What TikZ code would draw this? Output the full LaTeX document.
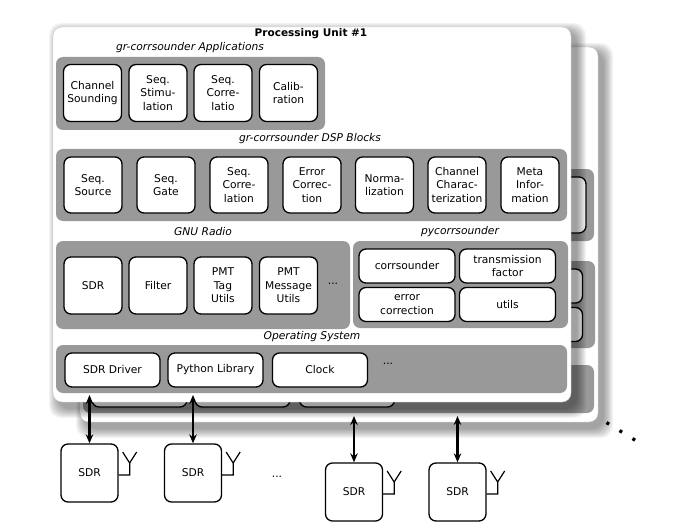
\documentclass[tikz,border=0pt]{standalone}
\usepackage{fontspec}
\setmainfont{DejaVu Sans}
\usetikzlibrary{arrows.meta}

\definecolor{layergray}{gray}{0.6}

% one processing unit: shadow, card, layers and blocks (text through \bt)
\newcommand{\unitbody}{%
  \foreach \i in {0,...,9}
    \fill[black, opacity=0.045, rounded corners=12pt] ({58-\i},{32-\i}) rectangle ({577+\i},{409+\i});
  \draw[black!20, fill=white, rounded corners=9pt] (53,27) rectangle (571,402);
  \fill[layer] (56,57) rectangle (325,130);
  \fill[layer] (56,149) rectangle (567,221);
  \fill[layer] (56,241) rectangle (350,329);
  \fill[layer] (353,241) rectangle (568,328);
  \fill[layer] (56,345) rectangle (567,393);
  % applications
  \node[blk] (chsnd) at (92.5,93) {\bt{Channel\\Sounding}};
  \node[blk] (seqstim) at (158,93) {\bt{Seq.\\Stimu-\\lation}};
  \node[blk] (seqcorr) at (223,93) {\bt{Seq.\\Corre-\\latio}};
  \node[blk] (calib) at (288.5,93) {\bt{Calib-\\ration}};
  % dsp blocks
  \node[blk, minimum height=56pt] (seqsrc) at (93,185) {\bt{Seq.\\Source}};
  \node[blk, minimum height=56pt] (seqgate) at (166,185) {\bt{Seq.\\Gate}};
  \node[blk, minimum height=56pt] (seqcorrb) at (239,185) {\bt{Seq.\\Corre-\\lation}};
  \node[blk, minimum height=56pt] (errcorr) at (312,185) {\bt{Error\\Correc-\\tion}};
  \node[blk, minimum height=56pt] (norm) at (384.5,185) {\bt{Norma-\\lization}};
  \node[blk, minimum height=56pt] (chchar) at (457,185) {\bt{Channel\\Charac-\\terization}};
  \node[blk, minimum height=56pt] (meta) at (530,185) {\bt{Meta\\Infor-\\mation}};
  % gnu radio
  \node[blk] (sdrblk) at (93,285.5) {\bt{SDR}};
  \node[blk] (filter) at (158,285.5) {\bt{Filter}};
  \node[blk] (pmttag) at (223,285.5) {\bt{PMT\\Tag\\Utils}};
  \node[blk] (pmtmsg) at (288.5,285.5) {\bt{PMT\\Message\\Utils}};
  % pycorrsounder
  \node[wblk] (corrsnd) at (407,266) {\bt{corrsounder}};
  \node[wblk] (txfactor) at (507.5,266) {\bt{transmission\\factor}};
  \node[wblk] (errcorrpy) at (407,304.5) {\bt{error\\correction}};
  \node[wblk] (utils) at (507.5,304.5) {\bt{utils}};
  % operating system
  \node[wblk, minimum width=95pt] (sdrdrv) at (112.5,370) {\bt{SDR Driver}};
  \node[wblk, minimum width=95pt] (pylib) at (215.5,370) {\bt{Python Library}};
  \node[wblk, minimum width=95pt] (clock) at (320,370) {\bt{Clock}};
}

\begin{document}
\begin{tikzpicture}[x=1pt, y=-1pt,
  font=\fontsize{10.7}{13.5}\selectfont,
  layer/.style={fill=layergray, rounded corners=7pt},
  blk/.style={draw, fill=white, line width=1.3pt, rounded corners=7pt, align=center,
    inner sep=1pt, minimum width=58pt, minimum height=57pt},
  wblk/.style={blk, minimum width=96pt, minimum height=34pt},
  sdr/.style={blk, minimum width=57pt, minimum height=58pt},
  lbl/.style={font=\fontsize{10.7}{13.5}\selectfont\itshape},
  link/.style={<->, line width=2.3pt},
  >={Stealth[length=9pt,width=7.5pt]}]
\useasboundingbox (0,0) rectangle (680,532);

% second unit, behind
\begin{scope}[shift={(27,20)}]
  \def\bt#1{}
  \unitbody
\end{scope}

% first unit
\def\bt#1{#1}
\unitbody
\node[font=\fontsize{10.5}{13}\selectfont\bfseries] (title) at (311,34) {Processing Unit \#1};
\node[lbl] (appslbl) at (190,48) {gr-corrsounder Applications};
\node[lbl] (dsplbl) at (310,139) {gr-corrsounder DSP Blocks};
\node[lbl] (gnulbl) at (203,232) {GNU Radio};
\node[lbl] (pyclbl) at (460,232) {pycorrsounder};
\node[lbl] (oslbl) at (312,337) {Operating System};
\node (gnudots) at (333,284) {...};
\node (osdots) at (388,364) {...};

% radios
\node[sdr] (sdrA) at (89.5,473) {SDR};
\node[sdr] (sdrB) at (193,473) {SDR};
\node[sdr] (sdrC) at (354,492) {SDR};
\node[sdr] (sdrD) at (457.5,492) {SDR};
\node (sdrdots) at (277,477) {...};
\node[rotate=-32, font=\fontsize{18}{18}\selectfont\bfseries] (unitdots) at (621,432) {. . .};

\foreach \n in {sdrA,sdrB,sdrC,sdrD}
  \draw[line width=1.2pt] (\n.east) ++(0,2) -- ++(11,0) -- ++(0,-12) -- ++(-7,-11) ++(7,11) -- ++(7,-11);

\coordinate (frontos) at (0,395);
\coordinate (backos) at (0,416);
\draw[link] (sdrA.north) -- (sdrA.north |- frontos);
\draw[link] (sdrB.north) -- (sdrB.north |- frontos);
\draw[link] (sdrC.north) -- (sdrC.north |- backos);
\draw[link] (sdrD.north) -- (sdrD.north |- backos);
\end{tikzpicture}
\end{document}
